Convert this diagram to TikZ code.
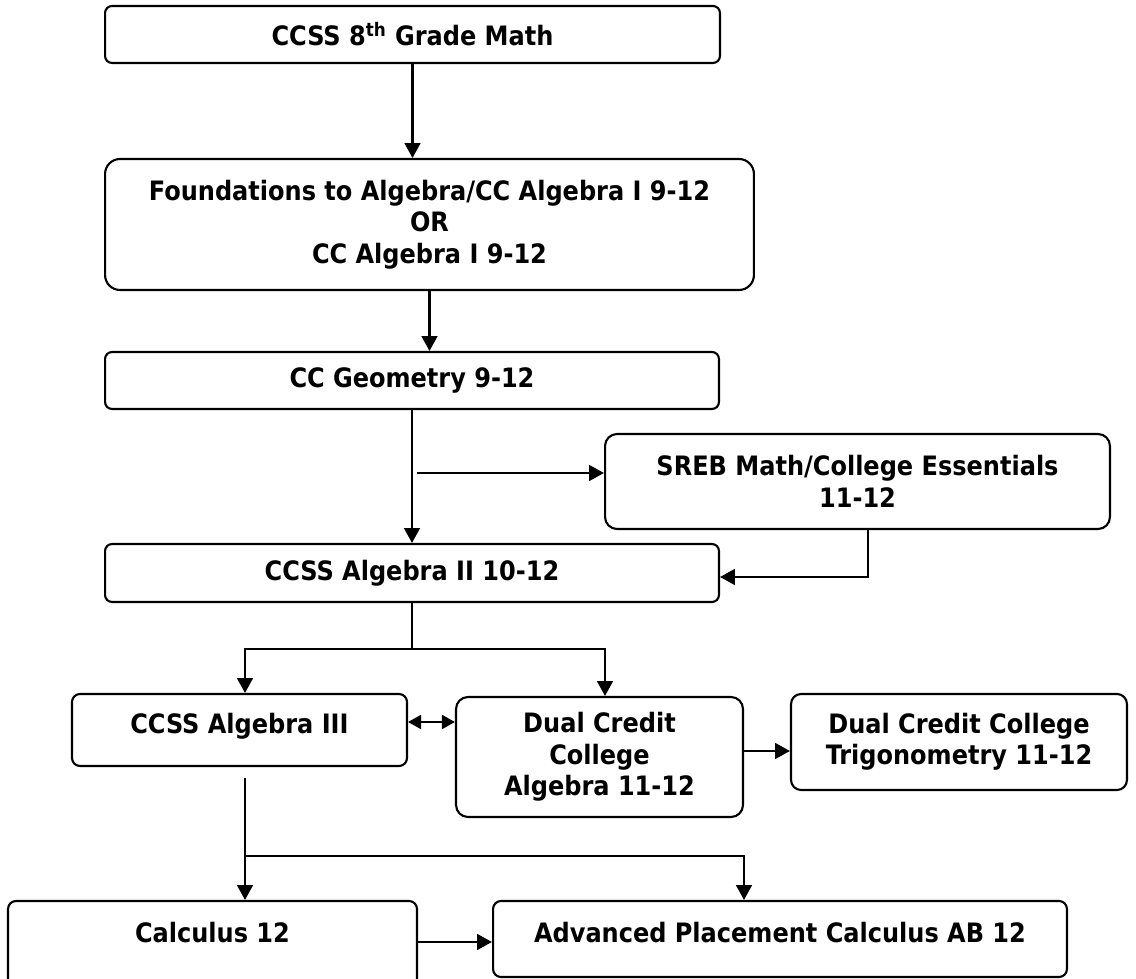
\documentclass[tikz,border=0pt]{standalone}
\usepackage{fontspec}
\setmainfont{DejaVu Sans Condensed}
\usetikzlibrary{arrows.meta}

\begin{document}
\begin{tikzpicture}[x=0.02cm,y=-0.02cm]
    \tikzstyle{course}=[draw, line width=1.2pt, rounded corners=4pt, inner sep=0pt, align=center, font=\fontsize{15.2}{17.9}\selectfont\bfseries]
    \tikzstyle{flow}=[line width=1.3pt, -{Triangle[length=8.5pt,width=9pt]}]
    \tikzstyle{both}=[line width=1.3pt, {Triangle[length=7.5pt,width=8pt]}-{Triangle[length=7.5pt,width=8pt]}]
    \useasboundingbox (0,0) rectangle (1136,979);

    \node[course, minimum width=12.3cm, minimum height=1.14cm] (eighth) at (412.5,34.5) {CCSS 8\textsuperscript{th} Grade Math};
    \node[course, minimum width=12.98cm, minimum height=2.62cm, rounded corners=8.5pt] (found) at (429.5,224.5) {Foundations to Algebra/CC Algebra I 9-12\\OR\\CC Algebra I 9-12};
    \node[course, minimum width=12.28cm, minimum height=1.14cm] (geom) at (412,380.5) {CC Geometry 9-12};
    \node[course, minimum width=10.1cm, minimum height=1.9cm, rounded corners=6.8pt] (sreb) at (857.5,481.5) {SREB Math/College Essentials\\11-12};
    \node[course, minimum width=12.28cm, minimum height=1.16cm] (algtwo) at (412,573) {CCSS Algebra II 10-12};
    \node[course, minimum width=6.7cm, minimum height=1.44cm, rounded corners=4.5pt, text depth=7pt] (algthree) at (239.5,730) {CCSS Algebra III};
    \node[course, minimum width=5.74cm, minimum height=2.4cm, rounded corners=6.8pt] (dualalg) at (599.5,757) {Dual Credit\\College\\Algebra 11-12};
    \node[course, minimum width=6.72cm, minimum height=1.92cm, rounded corners=5.7pt] (dualtrig) at (959,742) {Dual Credit College\\Trigonometry 11-12};
    \node[course, minimum width=8.18cm, minimum height=1.88cm, rounded corners=4.5pt, text depth=18pt] (calc) at (212.5,948) {Calculus 12};
    \node[course, minimum width=11.48cm, minimum height=1.52cm, rounded corners=4.5pt, text depth=8pt] (apcalc) at (780,939) {Advanced Placement Calculus AB 12};

    \coordinate (geomfork) at (417,473);
    \coordinate (algfork) at (412,649);
    \coordinate (calcgap) at (245,778);
    \coordinate (calcfork) at (245,856);

    \draw[flow] (eighth.south) -- (eighth.south |- found.north);
    \draw[flow] (found.south) -- (found.south |- geom.north);
    \draw[flow] (geom.south) -- (algtwo.north);
    \draw[flow] (geomfork) -- (geomfork -| sreb.west);
    \draw[flow] (868,0 |- sreb.south) -- (868,577) -- (868,577 -| algtwo.east);
    \draw[line width=1.3pt] (algtwo.south) -- (algfork);
    \draw[flow] (algfork) -| (245,0 |- algthree.north);
    \draw[flow] (algfork) -| (605,0 |- dualalg.north);
    \draw[both] (algthree.east |- 0,722) -- (dualalg.west |- 0,722);
    \draw[flow] (dualalg.east |- 0,751) -- (dualtrig.west |- 0,751);
    \draw[flow] (calcgap) -- (calcgap |- calc.north);
    \draw[flow] (calcfork) -| (744,0 |- apcalc.north);
    \draw[flow] (calc.east |- 0,942) -- (apcalc.west |- 0,942);
\end{tikzpicture}
\end{document}
